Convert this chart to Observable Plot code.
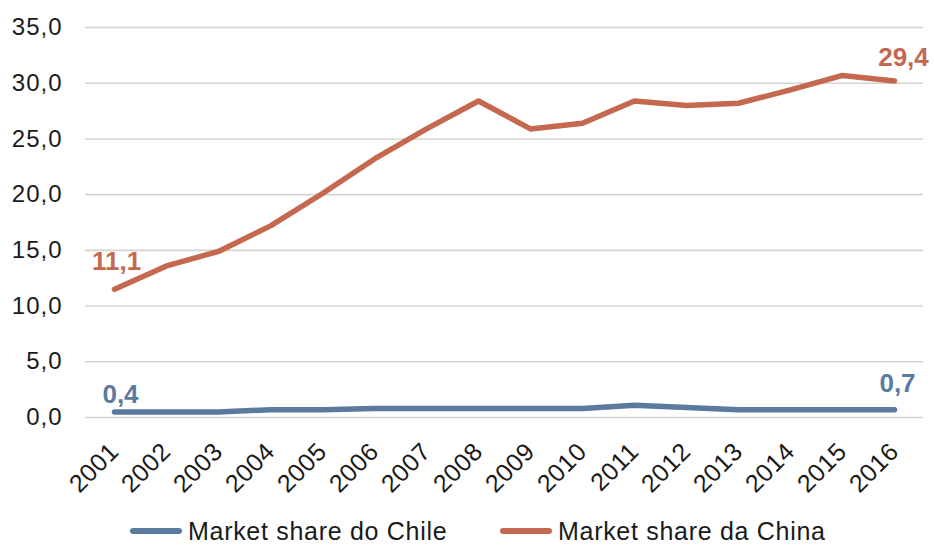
<!DOCTYPE html>
<html>
<head>
<meta charset="utf-8">
<script src="https://cdn.jsdelivr.net/npm/d3@7"></script>
<script src="https://cdn.jsdelivr.net/npm/@observablehq/plot@0.6"></script>
<style>
  html, body { margin: 0; padding: 0; background: #fff; }
  body { width: 934px; height: 547px; overflow: hidden; font-family: "Liberation Sans", Arial, sans-serif; }
  #legend { position: relative; height: 32px; font-size: 25px; letter-spacing: 0.7px; color: #1a1a1a; }
  .item { position: absolute; top: 0; display: flex; align-items: center; height: 32px; }
  .swatch { width: 52px; height: 5.5px; border-radius: 3px; margin-right: 6px; }
  g[aria-label="y-axis tick label"] { font-size: 24px !important; letter-spacing: 1px; }
  g[aria-label="x-axis tick label"] { font-size: 25px !important; letter-spacing: 0.5px; }
</style>
</head>
<body>
<div id="chart"></div>
<div id="legend"></div>
<script>
const years = ["2001","2002","2003","2004","2005","2006","2007","2008","2009","2010","2011","2012","2013","2014","2015","2016"];
const chile = [0.5,0.5,0.5,0.7,0.7,0.8,0.8,0.8,0.8,0.8,1.1,0.9,0.7,0.7,0.7,0.7];
const china = [11.5,13.6,14.9,17.2,20.1,23.2,25.9,28.4,25.9,26.4,28.4,28.0,28.2,29.4,30.7,30.2];
const seriesNames = ["Market share do Chile","Market share da China"];
const seriesColors = ["#5b7aa0","#c4684f"];
const endLabels = [
  {series: 0, year: "2001", value: 0.5, text: "0,4"},
  {series: 0, year: "2016", value: 0.7, text: "0,7"},
  {series: 1, year: "2001", value: 11.5, text: "11,1"},
  {series: 1, year: "2016", value: 30.2, text: "29,4"}
];
const yTicks = [0,5,10,15,20,25,30,35];

const rows = [];
years.forEach((y,i) => {
  rows.push({year: y, value: chile[i], s: seriesNames[0]});
  rows.push({year: y, value: china[i], s: seriesNames[1]});
});

const offsets = {
  "0,4": [6,-17],
  "0,7": [3,-26],
  "11,1": [2,-28],
  "29,4": [9,-23]
};

const fmt = v => v.toFixed(1).replace(".", ",");

const plot = Plot.plot({
  width: 934,
  height: 515,
  marginLeft: 85,
  marginRight: 11,
  marginTop: 27,
  marginBottom: 98,
  style: {fontFamily: "'Liberation Sans', Arial, sans-serif", color: "#1a1a1a", background: "#fff"},
  x: {type: "point", domain: years, padding: 0.5},
  y: {domain: [0,35]},
  color: {domain: seriesNames, range: seriesColors},
  marks: [
    Plot.ruleY(yTicks, {stroke: "#d9d3cf", strokeWidth: 1.6}),
    Plot.axisY({ticks: yTicks, tickFormat: fmt, label: null, tickSize: 0, tickPadding: 23, fontSize: 24, fill: "#1a1a1a"}),
    Plot.axisX({label: null, tickSize: 0, tickPadding: 30, tickRotate: -45, fontSize: 25, fill: "#1a1a1a"}),
    Plot.line(rows, {x: "year", y: "value", z: "s", stroke: "s", strokeWidth: 5.5, strokeLinecap: "round", strokeLinejoin: "round"}),
    ...endLabels.map(d => Plot.text([d], {
      x: "year", y: "value", text: "text",
      fill: seriesColors[d.series],
      fontWeight: "bold", fontSize: 26,
      dx: offsets[d.text][0], dy: offsets[d.text][1]
    }))
  ]
});
document.getElementById("chart").appendChild(plot);

const legend = document.getElementById("legend");
const legendLeft = [130, 500];
seriesNames.forEach((n,i) => {
  const it = document.createElement("div");
  it.className = "item";
  it.style.left = legendLeft[i] + "px";
  const sw = document.createElement("div");
  sw.className = "swatch";
  sw.style.background = seriesColors[i];
  const tx = document.createElement("span");
  tx.textContent = n;
  it.appendChild(sw); it.appendChild(tx);
  legend.appendChild(it);
});
</script>
</body>
</html>
